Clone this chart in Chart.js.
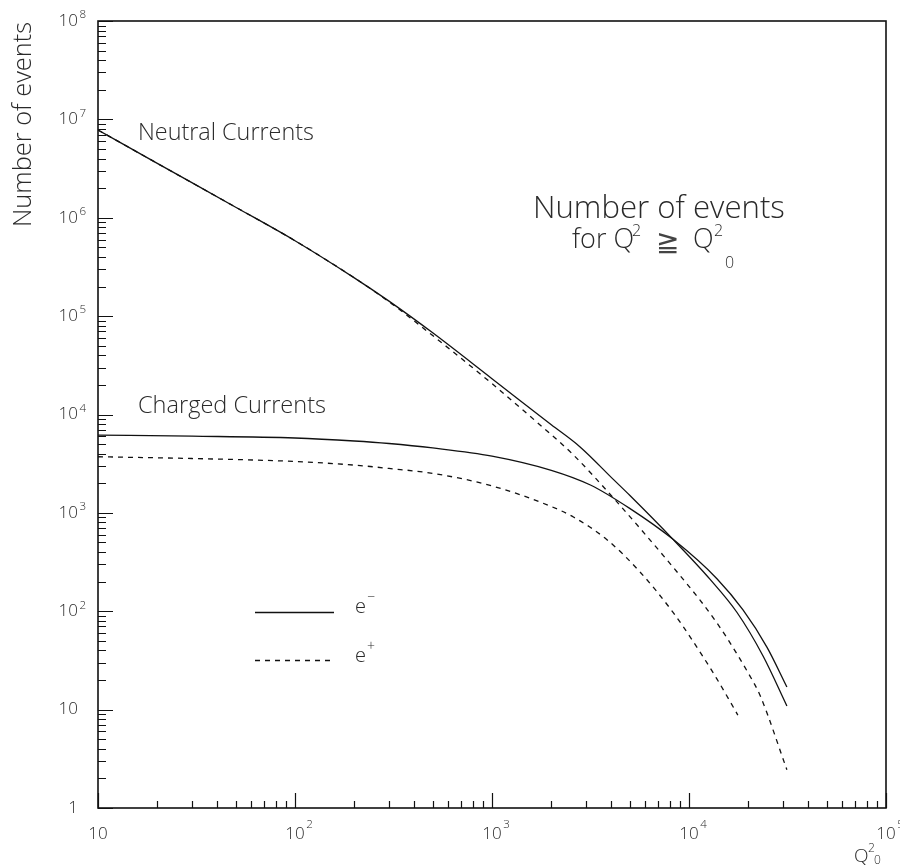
<!DOCTYPE html>
<html>
<head>
<meta charset="utf-8">
<script src="https://cdn.jsdelivr.net/npm/chart.js@4.4.0/dist/chart.umd.min.js"></script>
<style>
  html, body { margin: 0; padding: 0; background: #fff; }
  canvas { display: block; }
</style>
</head>
<body>
<canvas id="events-chart" width="900" height="867"></canvas>
<script>
// Number of events with Q2 >= Q2_0
const ncElecQ2 = [10, 20, 50, 100, 200, 300, 500, 1000, 2000, 2800, 4130, 5000, 8300, 12800, 17500, 23800, 31400];
const ncElecN  = [7.8e6, 3.57e6, 1.28e6, 5.84e5, 2.45e5, 1.42e5, 6.76e4, 2.31e4, 7.87e3, 4.68e3, 2.19e3, 1.51e3, 538, 211, 97.7, 34.9, 10.9];

const ncPosQ2 = [10, 20, 50, 100, 200, 300, 500, 1000, 1660, 2590, 4130, 5640, 8320, 11400, 13800, 15500, 20400, 22900, 31400];
const ncPosN  = [7.8e6, 3.57e6, 1.28e6, 5.84e5, 2.45e5, 1.40e5, 6.34e4, 2.06e4, 8.62e3, 3.88e3, 1.42e3, 697, 279, 129, 76.9, 54.5, 21.9, 14.1, 2.45];

const ccElecQ2 = [10, 30, 100, 200, 300, 500, 1000, 2000, 3160, 5000, 8300, 13900, 18800, 24900, 31400];
const ccElecN  = [6.17e3, 6.02e3, 5.77e3, 5.38e3, 5.07e3, 4.57e3, 3.78e3, 2.71e3, 1.92e3, 1.11e3, 538, 213, 103, 43, 17];

const ccPosQ2 = [10, 30, 100, 200, 300, 500, 1000, 2000, 2590, 3820, 5640, 8320, 10400, 13800, 17700];
const ccPosN  = [3.72e3, 3.57e3, 3.33e3, 3.06e3, 2.83e3, 2.52e3, 1.88e3, 1.16e3, 908, 537, 251, 96.8, 50.7, 20.8, 8.8];

// decade tick labels: [base, exponent]
const xTicks = [10, 100, 1000, 10000, 100000];
const xTickLabels = [['10', ''], ['10', '2'], ['10', '3'], ['10', '4'], ['10', '5']];
const yTicks = [1, 10, 100, 1e3, 1e4, 1e5, 1e6, 1e7, 1e8];
const yTickLabels = [['1', ''], ['10', ''], ['10', '2'], ['10', '3'], ['10', '4'], ['10', '5'], ['10', '6'], ['10', '7'], ['10', '8']];

const FONT = '"Open Sans", "DejaVu Sans", sans-serif';
const TXT = '#2a2a2a';

function pts(xs, ys) {
  return xs.map((x, i) => ({ x: x, y: ys[i] }));
}

function line(data, dashed) {
  return {
    data: data,
    showLine: true,
    borderColor: '#111',
    borderWidth: 1.3,
    borderDash: dashed ? [5, 5] : [],
    pointRadius: 0,
    cubicInterpolationMode: 'monotone',
    fill: false
  };
}

function font(size) {
  return '300 ' + size + 'px ' + FONT;
}

// draw text scaled so that it spans the wanted width
function fitText(ctx, text, x, y, width) {
  ctx.font = font(100);
  const s = 100 * width / ctx.measureText(text).width;
  ctx.font = font(s);
  ctx.fillText(text, x, y);
  return s;
}

function drawPow(ctx, base, exp, x, y, size, align, lift) {
  ctx.font = font(size);
  ctx.textBaseline = 'middle';
  ctx.textAlign = 'left';
  const w = ctx.measureText(base).width;
  const bx = align === 'right' ? x - w : x - w / 2;
  ctx.fillText(base, bx, y);
  if (exp) {
    ctx.font = font(size * 0.68);
    ctx.fillText(exp, bx + w + 1.5, y - lift);
  }
}

const framePlugin = {
  id: 'frame',
  afterDraw(chart) {
    const ctx = chart.ctx;
    const a = chart.chartArea;
    const xs = chart.scales.x, ys = chart.scales.y;
    ctx.save();
    ctx.strokeStyle = '#111';
    ctx.fillStyle = TXT;

    // frame
    ctx.lineWidth = 1.6;
    ctx.strokeRect(a.left, a.top, a.right - a.left, a.bottom - a.top);

    // ticks, pointing inward
    ctx.lineWidth = 1.2;
    ctx.beginPath();
    xTicks.forEach((d, i) => {
      const px = Math.round(xs.getPixelForValue(d)) + 0.5;
      ctx.moveTo(px, a.bottom); ctx.lineTo(px, a.bottom - 15);
      if (i < xTicks.length - 1) {
        for (let k = 2; k <= 9; k++) {
          const mx = Math.round(xs.getPixelForValue(d * k)) + 0.5;
          ctx.moveTo(mx, a.bottom); ctx.lineTo(mx, a.bottom - 7);
        }
      }
    });
    yTicks.forEach((d, i) => {
      const py = Math.round(ys.getPixelForValue(d)) + 0.5;
      ctx.moveTo(a.left, py); ctx.lineTo(a.left + 15, py);
      if (i < yTicks.length - 1) {
        for (let k = 2; k <= 9; k++) {
          const my = Math.round(ys.getPixelForValue(d * k)) + 0.5;
          ctx.moveTo(a.left, my); ctx.lineTo(a.left + 8, my);
        }
      }
    });
    ctx.stroke();

    // tick labels
    xTicks.forEach((d, i) => {
      drawPow(ctx, xTickLabels[i][0], xTickLabels[i][1], xs.getPixelForValue(d), a.bottom + 26, 17, 'center', 9.5);
    });
    yTicks.forEach((d, i) => {
      drawPow(ctx, yTickLabels[i][0], yTickLabels[i][1], a.left - 20, ys.getPixelForValue(d), 17, 'right', 6);
    });

    // axis titles
    ctx.textAlign = 'left';
    ctx.textBaseline = 'alphabetic';
    ctx.save();
    ctx.translate(31, 227);
    ctx.rotate(-Math.PI / 2);
    fitText(ctx, 'Number of events', 0, 0, 205);
    ctx.restore();

    ctx.font = font(19);
    ctx.fillText('Q', 854, 862);
    ctx.font = font(12);
    ctx.fillText('2', 868, 852);
    ctx.fillText('0', 874, 864);

    // curve labels
    fitText(ctx, 'Neutral Currents', 138, 140, 176);
    fitText(ctx, 'Charged Currents', 138, 413, 188);

    // big caption
    fitText(ctx, 'Number of events', 533, 218, 252);
    ctx.font = font(27);
    ctx.fillText('for Q', 572, 248);
    ctx.fillText('Q', 693, 248);
    ctx.font = font(16);
    ctx.fillText('2', 632, 236);
    ctx.fillText('2', 714, 236);
    ctx.fillText('0', 725, 268);
    ctx.save();
    ctx.fillStyle = '#444';
    ctx.font = '28px "DejaVu Sans", sans-serif';
    ctx.fillText('\u2267', 656, 251);
    ctx.restore();

    // legend
    ctx.lineWidth = 1.3;
    ctx.beginPath();
    ctx.moveTo(255, 612.5); ctx.lineTo(334, 612.5);
    ctx.stroke();
    ctx.setLineDash([5, 5]);
    ctx.beginPath();
    ctx.moveTo(255, 660.5); ctx.lineTo(334, 660.5);
    ctx.stroke();
    ctx.setLineDash([]);
    ctx.font = font(20);
    ctx.fillText('e', 355, 613);
    ctx.fillText('e', 355, 662);
    ctx.font = font(14);
    ctx.fillText('\u2212', 367, 601);
    ctx.fillText('+', 367, 651);

    ctx.restore();
  }
};

new Chart(document.getElementById('events-chart'), {
  type: 'scatter',
  data: {
    datasets: [
      line(pts(ncElecQ2, ncElecN), false),
      line(pts(ncPosQ2, ncPosN), true),
      line(pts(ccElecQ2, ccElecN), false),
      line(pts(ccPosQ2, ccPosN), true)
    ]
  },
  options: {
    responsive: false,
    animation: false,
    layout: { padding: { left: 98, right: 14, top: 21, bottom: 59 } },
    plugins: { legend: { display: false }, tooltip: { enabled: false } },
    scales: {
      x: { type: 'logarithmic', min: 10, max: 100000, display: false },
      y: { type: 'logarithmic', min: 1, max: 1e8, display: false }
    }
  },
  plugins: [framePlugin]
});
</script>
</body>
</html>
